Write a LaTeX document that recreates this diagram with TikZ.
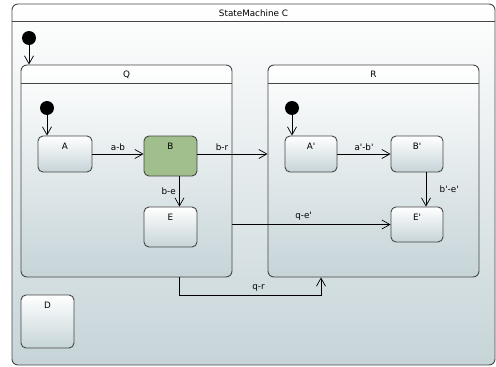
\documentclass[tikz,border=0pt]{standalone}
\usepackage{fontspec}
\setsansfont{DejaVu Sans}
\usetikzlibrary{arrows.meta}
\definecolor{boxline}{RGB}{70,70,70}
\definecolor{boxbottom}{RGB}{198,212,216}
\definecolor{activegreen}{RGB}{161,190,141}
\newcommand{\pr}{\textquotesingle} % straight prime in names
\tikzset{every node/.style={font=\sffamily\fontsize{8.8}{10}\selectfont}, % Font of all texts
region/.style={ % Composite states, name in the header
draw=boxline,
line width=0.9pt,
rounded corners=6pt,
top color=white,
bottom color=boxbottom,
label={[below=2.5pt]north:#1}},
simple/.style={ % Simple states, name near the top
draw=boxline,
line width=0.9pt,
rounded corners=5pt,
top color=white,
bottom color=boxbottom,
label={[below=4pt]north:#1}},
initial dot/.style={circle, fill=black, inner sep=0pt, minimum size=14pt},
trans/.style={ % Sets the properties for each transition
draw=black,
-{Straight Barb[length=8pt,width=9pt]}, % Open arrow heads
line width=0.7pt}}

\begin{document}
\begin{tikzpicture}[x=1pt,y=-1pt]
\useasboundingbox (0,0) rectangle (496,367);
% containers
\node[region=StateMachine C, minimum width=483pt, minimum height=361pt] (C) at (253.5,184.5) {};
\draw[boxline, line width=0.9pt] ([yshift=-18pt]C.north west) -- ([yshift=-18pt]C.north east);
\node[region=Q, minimum width=211pt, minimum height=212pt] (Q) at (126.5,171) {};
\draw[boxline, line width=0.9pt] ([yshift=-19pt]Q.north west) -- ([yshift=-19pt]Q.north east);
\node[region=R, minimum width=211pt, minimum height=212pt] (R) at (373.5,171) {};
\draw[boxline, line width=0.9pt] ([yshift=-19pt]R.north west) -- ([yshift=-19pt]R.north east);
% states
\node[simple=A, minimum width=54pt, minimum height=36pt] (A) at (65,154) {};
\node[simple=B, minimum width=53pt, minimum height=40pt, top color=activegreen, bottom color=activegreen] (B) at (170.5,156) {};
\node[simple=E, minimum width=53pt, minimum height=40pt] (E) at (170.5,227) {};
\node[simple=A\pr, minimum width=52pt, minimum height=36pt] (A2) at (311,154) {};
\node[simple=B\pr, minimum width=52pt, minimum height=36pt] (B2) at (417,154) {};
\node[simple=E\pr, minimum width=52pt, minimum height=35pt] (E2) at (417,224.5) {};
\node[simple=D, minimum width=53pt, minimum height=53pt] (D) at (47.5,321.5) {};
% initial pseudo states
\node[initial dot] (C0) at (29,38) {};
\node[initial dot] (Q0) at (47,108) {};
\node[initial dot] (R0) at (292,108) {};
\draw[trans] (C0) -- (C0 |- Q.north);
\draw[trans] (Q0) -- (Q0 |- A.north);
\draw[trans] (R0) -- (R0 |- A2.north);
% transitions
\draw[trans] (A.east) -- node[above] {a-b} (A.east -| B.west);
\draw[trans] (B.east |- A.east) -- node[above, pos=0.35] {b-r} (A.east -| R.west);
\draw[trans] ([xshift=9pt]B.south) -- node[left] {b-e} ([xshift=9pt]E.north);
\draw[trans] (A2.east) -- node[above] {a\pr-b\pr} (B2.west);
\draw[trans] ([xshift=9pt]B2.south) -- node[right=10pt] {b\pr-e\pr} ([xshift=9pt]E2.north);
\draw[trans] (Q.east |- E2.west) -- node[above, pos=0.45] {q-e\pr} (E2.west);
\draw[trans] ([xshift=52.5pt]Q.south) -- ++(0,18) -| node[above, pos=0.28] {q-r} ([xshift=-52.5pt]R.south);
\end{tikzpicture}
\end{document}
